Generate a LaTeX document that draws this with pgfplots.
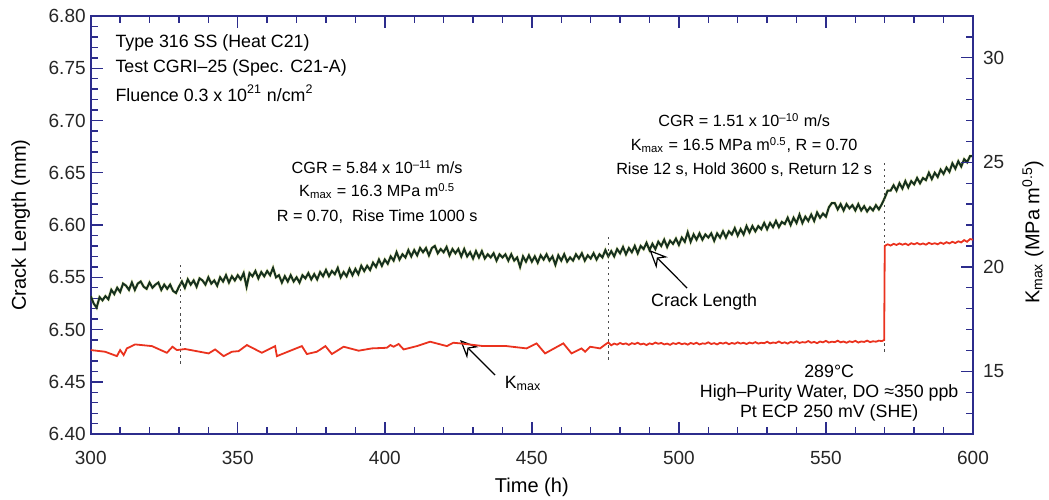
\documentclass[border=0pt]{standalone}
\usepackage{fontspec}
\setmainfont{Liberation Sans}
\usepackage{pgfplots}
\usepackage{pgfplotstable}
\pgfplotsset{compat=1.18}
\usetikzlibrary{arrows.meta}

\definecolor{axnavy}{RGB}{44,44,140}
\definecolor{crackc}{RGB}{22,48,30}
\definecolor{halo}{RGB}{200,214,80}
\definecolor{kred}{RGB}{234,50,30}

% crack length (mm) vs time (h)
\pgfplotstableread[row sep=\\]{t L\\
300 6.532\\ 301 6.525\\ 302 6.521\\ 303 6.531\\ 304 6.528\\ 305 6.532\\ 306 6.529\\ 307 6.538\\ 308 6.534\\ 309 6.540\\
310 6.536\\ 311 6.544\\ 312 6.542\\ 313 6.538\\ 314 6.545\\ 315 6.538\\ 316 6.544\\ 317 6.546\\ 318 6.541\\ 319 6.539\\
320 6.545\\ 321 6.540\\ 322 6.543\\ 323 6.545\\ 324 6.538\\ 325 6.543\\ 326 6.539\\ 327 6.543\\ 328 6.537\\ 329 6.535\\
330 6.541\\ 331 6.546\\ 332 6.540\\ 333 6.548\\ 334 6.543\\ 335 6.547\\ 336 6.541\\ 337 6.549\\ 338 6.547\\ 339 6.543\\
340 6.550\\ 341 6.544\\ 342 6.547\\ 343 6.542\\ 344 6.550\\ 345 6.546\\ 346 6.552\\ 347 6.545\\ 348 6.551\\ 349 6.547\\
350 6.552\\ 351 6.548\\ 352 6.554\\ 353 6.541\\ 354 6.554\\ 355 6.551\\ 356 6.556\\ 357 6.549\\ 358 6.555\\ 359 6.551\\
360 6.556\\ 361 6.552\\ 362 6.559\\ 363 6.550\\ 364 6.552\\ 365 6.545\\ 366 6.551\\ 367 6.546\\ 368 6.552\\ 369 6.546\\
370 6.550\\ 371 6.545\\ 372 6.552\\ 373 6.549\\ 374 6.554\\ 375 6.548\\ 376 6.553\\ 377 6.548\\ 378 6.555\\ 379 6.551\\
380 6.557\\ 381 6.551\\ 382 6.556\\ 383 6.553\\ 384 6.559\\ 385 6.550\\ 386 6.555\\ 387 6.551\\ 388 6.558\\ 389 6.552\\
390 6.558\\ 391 6.553\\ 392 6.561\\ 393 6.556\\ 394 6.561\\ 395 6.557\\ 396 6.564\\ 397 6.560\\ 398 6.567\\ 399 6.561\\
400 6.567\\ 401 6.563\\ 402 6.570\\ 403 6.566\\ 404 6.574\\ 405 6.567\\ 406 6.572\\ 407 6.569\\ 408 6.576\\ 409 6.570\\
410 6.576\\ 411 6.571\\ 412 6.578\\ 413 6.574\\ 414 6.578\\ 415 6.571\\ 416 6.578\\ 417 6.580\\ 418 6.573\\ 419 6.577\\
420 6.574\\ 421 6.579\\ 422 6.571\\ 423 6.577\\ 424 6.573\\ 425 6.577\\ 426 6.570\\ 427 6.577\\ 428 6.570\\ 429 6.574\\
430 6.568\\ 431 6.575\\ 432 6.569\\ 433 6.575\\ 434 6.568\\ 435 6.572\\ 436 6.569\\ 437 6.573\\ 438 6.566\\ 439 6.572\\
440 6.569\\ 441 6.572\\ 442 6.566\\ 443 6.572\\ 444 6.566\\ 445 6.569\\ 446 6.560\\ 447 6.570\\ 448 6.565\\ 449 6.571\\
450 6.565\\ 451 6.570\\ 452 6.564\\ 453 6.571\\ 454 6.567\\ 455 6.572\\ 456 6.566\\ 457 6.570\\ 458 6.562\\ 459 6.571\\
460 6.566\\ 461 6.572\\ 462 6.565\\ 463 6.569\\ 464 6.566\\ 465 6.572\\ 466 6.568\\ 467 6.573\\ 468 6.566\\ 469 6.571\\
470 6.568\\ 471 6.573\\ 472 6.567\\ 473 6.572\\ 474 6.569\\ 475 6.576\\ 476 6.570\\ 477 6.575\\ 478 6.570\\ 479 6.577\\
480 6.573\\ 481 6.579\\ 482 6.572\\ 483 6.578\\ 484 6.574\\ 485 6.580\\ 486 6.573\\ 487 6.580\\ 488 6.577\\ 489 6.583\\
490 6.576\\ 491 6.582\\ 492 6.577\\ 493 6.584\\ 494 6.580\\ 495 6.586\\ 496 6.579\\ 497 6.585\\ 498 6.582\\ 499 6.587\\
500 6.581\\ 501 6.588\\ 502 6.584\\ 503 6.593\\ 504 6.584\\ 505 6.591\\ 506 6.586\\ 507 6.592\\ 508 6.586\\ 509 6.591\\
510 6.588\\ 511 6.592\\ 512 6.585\\ 513 6.592\\ 514 6.588\\ 515 6.594\\ 516 6.588\\ 517 6.594\\ 518 6.591\\ 519 6.597\\
520 6.590\\ 521 6.596\\ 522 6.591\\ 523 6.599\\ 524 6.593\\ 525 6.599\\ 526 6.594\\ 527 6.599\\ 528 6.596\\ 529 6.602\\
530 6.596\\ 531 6.602\\ 532 6.598\\ 533 6.604\\ 534 6.598\\ 535 6.603\\ 536 6.601\\ 537 6.607\\ 538 6.600\\ 539 6.607\\
540 6.602\\ 541 6.610\\ 542 6.602\\ 543 6.608\\ 544 6.604\\ 545 6.610\\ 546 6.604\\ 547 6.612\\ 548 6.607\\ 549 6.611\\
550 6.608\\ 551 6.617\\ 552 6.621\\ 553 6.621\\ 554 6.615\\ 555 6.620\\ 556 6.614\\ 557 6.620\\ 558 6.616\\ 559 6.619\\
560 6.614\\ 561 6.620\\ 562 6.614\\ 563 6.618\\ 564 6.613\\ 565 6.617\\ 566 6.614\\ 567 6.619\\ 568 6.615\\ 569 6.620\\
570 6.626\\ 571 6.633\\ 572 6.633\\ 573 6.638\\ 574 6.633\\ 575 6.640\\ 576 6.635\\ 577 6.642\\ 578 6.636\\ 579 6.642\\
580 6.639\\ 581 6.645\\ 582 6.640\\ 583 6.645\\ 584 6.643\\ 585 6.650\\ 586 6.644\\ 587 6.650\\ 588 6.646\\ 589 6.653\\
590 6.649\\ 591 6.655\\ 592 6.651\\ 593 6.659\\ 594 6.654\\ 595 6.661\\ 596 6.656\\ 597 6.663\\ 598 6.660\\ 599 6.666\\
600 6.666\\
}\crack

% K_max (MPa m^0.5) vs time (h)
\pgfplotstableread[row sep=\\]{t K\\
300 16.02\\ 304.9 15.94\\ 308.9 15.73\\ 310 16.02\\ 311.2 15.78\\ 312.3 16.10\\ 315.1 16.29\\ 320.8 16.21\\
325.9 15.89\\ 327.8 16.18\\ 329.3 16.02\\ 332.1 16.07\\ 340.1 15.86\\ 342.3 16.05\\ 345.2 15.73\\ 348 15.94\\
350.3 15.97\\ 353.1 16.26\\ 358.2 15.89\\ 362.7 16.21\\ 363.3 15.73\\ 371.8 16.21\\ 373.5 15.83\\ 376.9 15.94\\
379.8 16.21\\ 382 15.83\\ 386 16.18\\ 391.1 15.99\\ 395.6 16.10\\ 400.7 16.13\\ 401.9 16.26\\ 403 16.18\\
404.7 16.31\\ 406.4 16.05\\ 410.9 16.21\\ 415.4 16.42\\ 421.1 16.21\\ 423.3 16.37\\ 425.6 16.34\\ 433.5 16.21\\
441.4 16.21\\ 448.2 16.10\\ 451.6 16.34\\ 454.5 15.86\\ 460.7 16.34\\ 463.5 15.86\\ 466.9 16.10\\ 468.1 15.94\\
469.8 16.18\\ 473.2 16.10\\ 475.5 16.34\\
476 16.38\\ 477 16.25\\ 478 16.33\\ 479 16.28\\ 480 16.36\\ 481 16.30\\ 482 16.34\\ 483 16.27\\ 484 16.35\\ 485 16.31\\
486 16.37\\ 487 16.29\\ 488 16.33\\ 489 16.26\\ 490 16.34\\ 491 16.30\\ 492 16.38\\ 493 16.32\\ 494 16.36\\ 495 16.29\\
496 16.33\\ 497 16.27\\ 498 16.35\\ 499 16.31\\ 500 16.37\\ 501 16.30\\ 502 16.34\\ 503 16.28\\ 504 16.36\\ 505 16.31\\
506 16.37\\ 507 16.29\\ 508 16.34\\ 509 16.32\\ 510 16.39\\ 511 16.31\\ 512 16.35\\ 513 16.29\\ 514 16.37\\ 515 16.33\\
516 16.38\\ 517 16.30\\ 518 16.36\\ 519 16.32\\ 520 16.39\\ 521 16.33\\ 522 16.37\\ 523 16.31\\ 524 16.38\\ 525 16.34\\
526 16.40\\ 527 16.33\\ 528 16.37\\ 529 16.35\\ 530 16.42\\ 531 16.34\\ 532 16.38\\ 533 16.36\\ 534 16.43\\ 535 16.35\\
536 16.39\\ 537 16.33\\ 538 16.41\\ 539 16.37\\ 540 16.44\\ 541 16.36\\ 542 16.40\\ 543 16.38\\ 544 16.45\\ 545 16.37\\
546 16.41\\ 547 16.35\\ 548 16.43\\ 549 16.39\\ 550 16.46\\ 551 16.38\\ 552 16.42\\ 553 16.40\\ 554 16.47\\ 555 16.39\\
556 16.43\\ 557 16.37\\ 558 16.44\\ 559 16.40\\ 560 16.46\\ 561 16.38\\ 562 16.43\\ 563 16.41\\ 564 16.47\\ 565 16.40\\
566 16.44\\ 567 16.42\\ 568 16.47\\ 569 16.45\\ 569.8 16.50\\
570 21.00\\ 571 21.08\\ 572 21.02\\ 573 21.10\\ 574 21.05\\ 575 21.12\\ 576 21.06\\ 577 21.11\\ 578 21.04\\ 579 21.13\\
580 21.08\\ 581 21.14\\ 582 21.07\\ 583 21.12\\ 584 21.06\\ 585 21.15\\ 586 21.09\\ 587 21.13\\ 588 21.08\\ 589 21.16\\
590 21.10\\ 591 21.18\\ 592 21.12\\ 593 21.20\\ 594 21.14\\ 595 21.22\\ 596 21.17\\ 597 21.28\\ 598 21.20\\ 599 21.33\\
600 21.30\\
}\kmax

\tikzset{
  ann/.style={inner sep=0pt, font=\fontsize{8.9}{10}\selectfont},
  annsm/.style={inner sep=0pt, font=\fontsize{8.1}{10}\selectfont},
  callout/.style={line width=0.6pt, -{Stealth[open, fill=white, length=9pt, width=8pt, inset=3pt]}},
}

\pgfplotsset{
  base/.style={
    width=441pt, height=209pt, scale only axis,
    xmin=300, xmax=600,
    tick align=inside,
    major tick length=6pt, minor tick length=3.5pt,
    axis line style={axnavy, line width=1pt},
    tick style={axnavy, line width=0.7pt},
    tick label style={font=\fontsize{9.5}{11}\selectfont, text=black!85},
    label style={font=\fontsize{10}{12}\selectfont},
    /pgf/number format/assume math mode=true,
  },
}

\begin{document}
\begin{tikzpicture}
\begin{axis}[base, name=ax,
    ymin=6.40, ymax=6.80,
    xtick={300,350,400,450,500,550,600}, minor x tick num=4,
    ytick={6.40,6.45,6.50,6.55,6.60,6.65,6.70,6.75,6.80}, minor y tick num=4,
    ytick pos=left, xtick pos=both,
    xticklabel style={yshift=-5pt},
    yticklabel style={/pgf/number format/fixed, /pgf/number format/fixed zerofill,
                      /pgf/number format/precision=2, xshift=1pt},
    xlabel={Time (h)},
    xlabel style={at={(axis description cs:0.5,-0.127)}, anchor=center},
    ylabel={Crack Length (mm)},
    ylabel style={at={(axis description cs:-0.0794,0.5)}, anchor=center},
  ]
  \addplot[halo, line width=1.6pt, opacity=0.3] table[x=t, y=L] {\crack};
  \addplot[crackc, line width=1.0pt] table[x=t, y=L] {\crack};

  % load change markers
  \draw[black!70, line width=0.5pt, dash pattern=on 1.2pt off 1.8pt]
    (axis cs:330.5,6.5617) -- (axis cs:330.5,6.4641)
    (axis cs:476,6.5885) -- (axis cs:476,6.4708)
    (axis cs:570,6.6593) -- (axis cs:570,6.4775);

  \node[ann, anchor=west] at (axis cs:308.3,6.774) {Type 316 SS (Heat C21)};
  \node[ann, anchor=west] at (axis cs:308.3,6.750) {Test CGRI–25 (Spec. C21-A)};
  \node[ann, anchor=west] at (axis cs:308.3,6.726) {Fluence 0.3 x 10\textsuperscript{21} n/cm\textsuperscript{2}};

  \node[annsm] at (axis cs:397.4,6.6555) {CGR = 5.84 x 10\textsuperscript{–11} m/s};
  \node[annsm] at (axis cs:397.4,6.6325) {K\textsubscript{max} = 16.3 MPa m\textsuperscript{0.5}};
  \node[annsm] at (axis cs:397.4,6.6077) {R = 0.70,~ Rise Time 1000 s};

  \node[annsm] at (axis cs:522.2,6.7005) {CGR = 1.51 x 10\textsuperscript{–10} m/s};
  \node[annsm] at (axis cs:522.2,6.6765) {K\textsubscript{max} = 16.5 MPa m\textsuperscript{0.5}, R = 0.70};
  \node[annsm] at (axis cs:522.2,6.6526) {Rise 12 s, Hold 3600 s, Return 12 s};

  \node[ann] at (axis cs:508.6,6.5266) {Crack Length};
  \draw[callout] (axis cs:502.8,6.5397) -- (axis cs:490,6.5761);

  \node[ann] at (axis cs:447,6.4488) {K\textsubscript{max}};
  \draw[callout] (axis cs:437.5,6.4565) -- (axis cs:425.6,6.4900);

  \node[ann] at (axis cs:551.1,6.4596) {289°C};
  \node[ann] at (axis cs:551.1,6.4392) {High–Purity Water, DO ≈350 ppb};
  \node[ann] at (axis cs:551.1,6.4201) {Pt ECP 250 mV (SHE)};
\end{axis}

\begin{axis}[base,
    ymin=12, ymax=32,
    axis y line*=right, axis x line=none,
    ytick={15,20,25,30},
    minor ytick={13,14,16,17,18,19,21,22,23,24,26,27,28,29,31},
    yticklabel style={xshift=1.5pt},
    ylabel={K\textsubscript{max} (MPa m\textsuperscript{0.5})},
    ylabel style={at={(axis description cs:1.068,0.483)}, anchor=center},
  ]
  \addplot[kred, line width=0.9pt] table[x=t, y=K] {\kmax};
\end{axis}

\pgfresetboundingbox
\path[use as bounding box] ([xshift=-45.35pt, yshift=-32.5pt]ax.south west)
  rectangle ([xshift=38pt, yshift=8pt]ax.north east);
\end{tikzpicture}
\end{document}
